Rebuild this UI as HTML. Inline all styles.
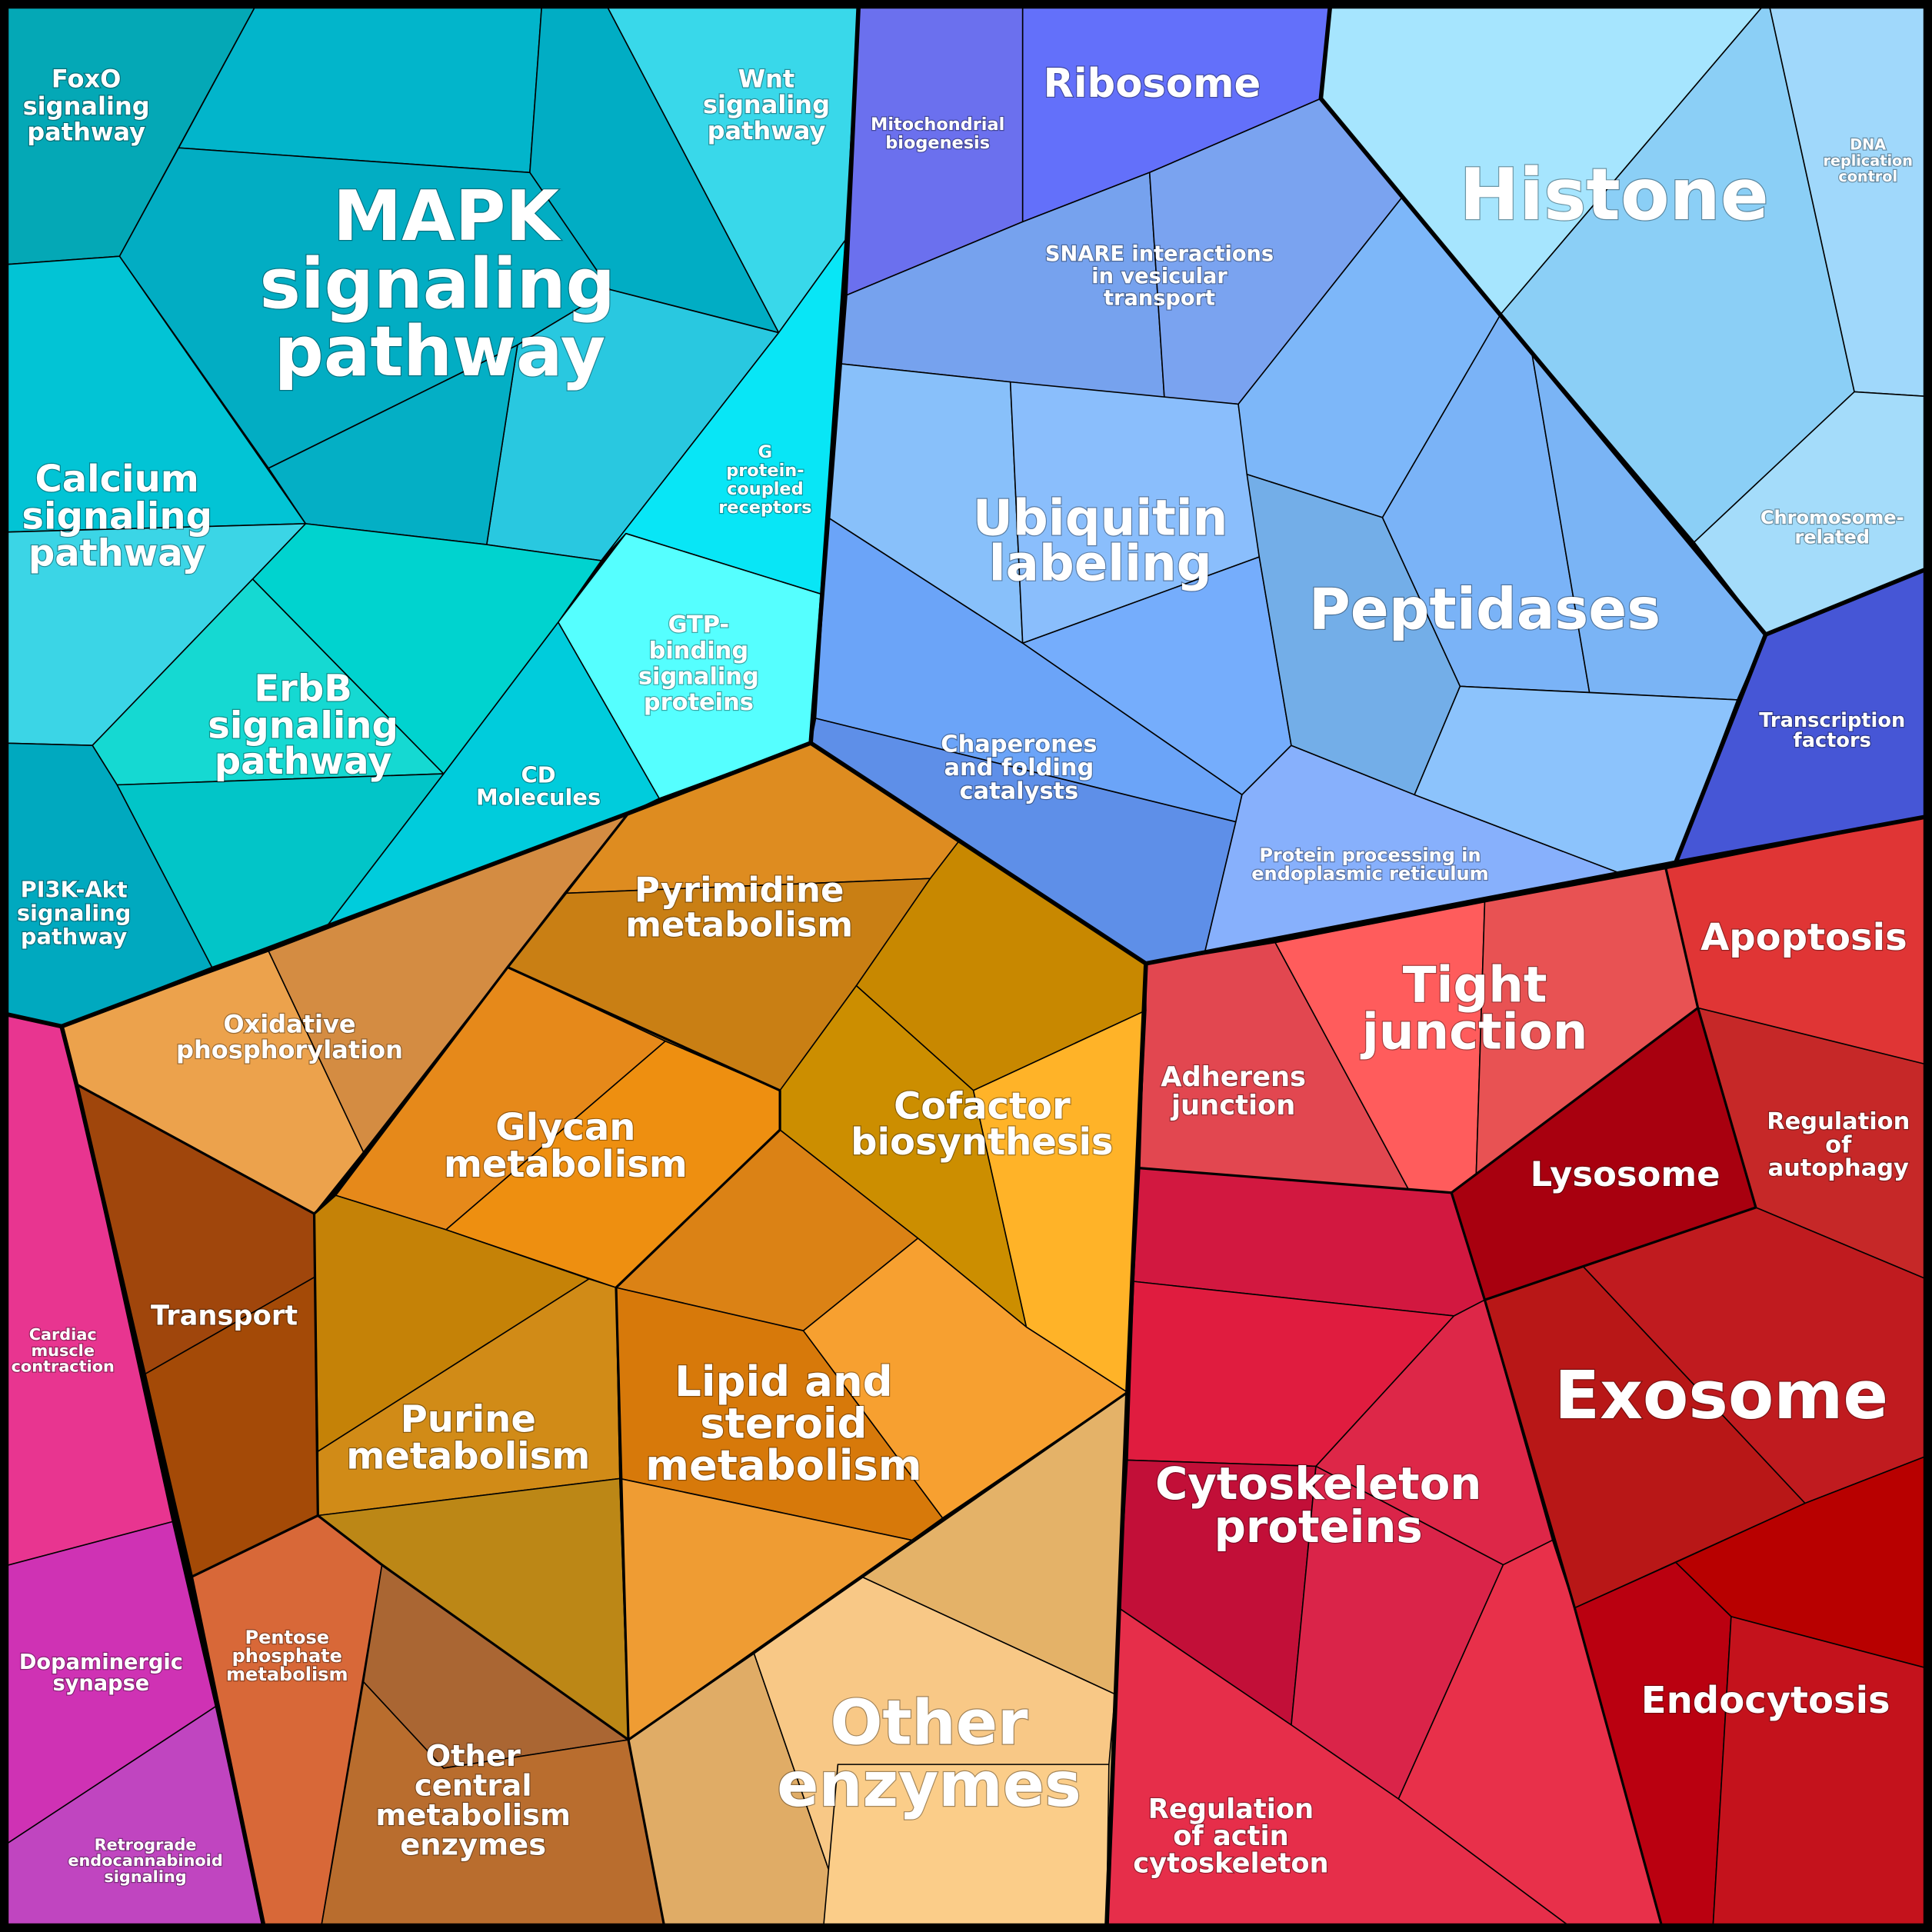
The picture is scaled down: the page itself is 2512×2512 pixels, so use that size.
<!DOCTYPE html>
<html><head><meta charset="utf-8"><style>
html,body{margin:0;padding:0;background:#fff}
svg{display:block}
.c polygon{stroke:#000;stroke-width:1;stroke-linejoin:round}
text{font-family:"DejaVu Sans","Liberation Sans",sans-serif;font-weight:bold;fill:#fff;text-anchor:middle;dominant-baseline:central;paint-order:stroke;stroke:rgba(0,0,0,0.35);stroke-width:1.5px}
</style></head><body>
<svg width="2512" height="2512" viewBox="0 0 1568 1568" xmlns="http://www.w3.org/2000/svg">
<rect width="1568" height="1568" fill="#000"/>
<g class="c">
<!-- cyan -->
<polygon fill="#04a8b6" points="0,0 210,0 97,208 0,215"/>
<polygon fill="#02b5cb" points="210,0 440,0 430,140 145,120"/>
<polygon fill="#01adc4" points="440,0 490,0 632,270 495,235 430,140"/>
<polygon fill="#02adc3" points="145,120 430,140 495,235 420,280 218,380 97,208"/>
<polygon fill="#29c8e0" points="420,280 495,235 632,270 488,455 395,442"/>
<polygon fill="#04afc5" points="218,380 420,280 395,442 248,425"/>
<polygon fill="#39d8ea" points="490,0 697,0 686,195 632,270"/>
<polygon fill="#08e6f6" points="686,195 666,482 508,433 488,455 632,270"/>
<polygon fill="#55ffff" points="508,433 666,482 658,603 535,648 453,505"/>
<polygon fill="#00ccdc" points="453,505 535,648 510,660 265,752 360,628"/>
<polygon fill="#00d3cf" points="248,425 395,442 488,455 453,505 360,628 205,470"/>
<polygon fill="#02c4d5" points="0,215 97,208 248,425 0,432"/>
<polygon fill="#3bd5e6" points="0,432 248,425 205,470 75,605 0,603"/>
<polygon fill="#15d9d2" points="205,470 360,628 95,637 75,605"/>
<polygon fill="#02c5c8" points="95,637 360,628 265,752 172,785"/>
<polygon fill="#00a9bf" points="0,603 75,605 95,637 172,785 50,833 0,822"/>
<!-- blue -->
<polygon fill="#6b70ee" points="697,0 830,0 830,180 686,240"/>
<polygon fill="#6370fa" points="830,0 1080,0 1072,80 933,140 830,180"/>
<polygon fill="#76a2ee" points="686,240 830,180 933,140 945,323 820,310 680,295"/>
<polygon fill="#7aa3f0" points="933,140 1072,80 1138,160 1005,328 945,323"/>
<polygon fill="#88c0fa" points="680,295 820,310 830,522 672,420"/>
<polygon fill="#8abefc" points="820,310 1005,328 1022,452 830,522"/>
<polygon fill="#75adfc" points="830,522 1022,452 1048,605 1008,645"/>
<polygon fill="#6ba4f8" points="672,420 830,522 1008,645 1003,667 662,583"/>
<polygon fill="#5e8fe8" points="662,583 1003,667 978,772 930,782 658,603"/>
<polygon fill="#87b0fc" points="1048,605 1148,645 1313,708 978,772 1003,667 1008,645"/>
<polygon fill="#7db7f9" points="1005,328 1138,160 1218,255 1122,420 1012,385"/>
<polygon fill="#73aee8" points="1012,385 1122,420 1185,557 1148,645 1048,605 1022,452"/>
<polygon fill="#7ab3f7" points="1122,420 1218,255 1243,285 1290,562 1185,557"/>
<polygon fill="#7ab4f5" points="1243,285 1433,515 1410,568 1290,562"/>
<polygon fill="#8cc3fc" points="1185,557 1410,568 1360,700 1313,708 1148,645"/>
<polygon fill="#a6e5fe" points="1080,0 1435,0 1218,255 1138,160 1072,80"/>
<polygon fill="#8bcff6" points="1435,0 1505,318 1375,440 1218,255"/>
<polygon fill="#a0d8fb" points="1435,0 1568,0 1568,322 1505,318"/>
<polygon fill="#a4dcfa" points="1505,318 1568,322 1568,460 1433,515 1375,440"/>
<polygon fill="#4656d6" points="1433,515 1568,460 1568,662 1360,700"/>
<!-- red -->
<polygon fill="#e24750" points="930,782 1035,765 1143,965 925,948"/>
<polygon fill="#ff5c5c" points="1035,765 1205,732 1198,955 1178,968 1143,965"/>
<polygon fill="#e85253" points="1205,732 1352,705 1378,818 1198,955"/>
<polygon fill="#e03535" points="1352,705 1568,662 1568,865 1378,818"/>
<polygon fill="#a8000f" points="1178,968 1378,818 1425,980 1205,1055"/>
<polygon fill="#c62828" points="1378,818 1568,865 1568,1040 1425,980"/>
<polygon fill="#b81717" points="1205,1055 1285,1028 1465,1220 1278,1305"/>
<polygon fill="#c01b1f" points="1285,1028 1425,980 1568,1040 1568,1180 1465,1220"/>
<polygon fill="#b80000" points="1465,1220 1568,1180 1568,1355 1405,1312 1360,1268"/>
<polygon fill="#ba0010" points="1278,1305 1360,1268 1405,1312 1390,1568 1350,1568"/>
<polygon fill="#c4121c" points="1405,1312 1568,1355 1568,1568 1390,1568"/>
<polygon fill="#d21840" points="925,948 1143,965 1178,968 1205,1055 1180,1068 920,1040"/>
<polygon fill="#e01c3f" points="920,1040 1180,1068 1068,1190 915,1185"/>
<polygon fill="#dd2748" points="1180,1068 1205,1055 1260,1250 1220,1270 1068,1190"/>
<polygon fill="#c20f38" points="915,1185 1068,1190 1048,1400 908,1305"/>
<polygon fill="#da2449" points="1068,1190 1220,1270 1135,1460 1048,1400"/>
<polygon fill="#e8304a" points="1220,1270 1260,1250 1278,1305 1350,1568 1280,1568 1135,1460"/>
<polygon fill="#e62e4a" points="908,1305 1048,1400 1135,1460 1280,1568 898,1568"/>
<!-- orange -->
<polygon fill="#eca24c" points="50,833 218,772 295,935 255,985 62,880"/>
<polygon fill="#d48c42" points="218,772 510,660 458,725 412,785 295,935"/>
<polygon fill="#de8c20" points="510,660 658,603 778,683 755,713 458,725"/>
<polygon fill="#c97f14" points="458,725 755,713 695,800 633,885 540,845 412,785"/>
<polygon fill="#c88800" points="778,683 930,782 930,820 790,885 695,800 755,713"/>
<polygon fill="#cc8e00" points="695,800 790,885 833,1077 745,1005 633,917 633,885"/>
<polygon fill="#ffb328" points="790,885 930,820 915,1130 833,1077"/>
<polygon fill="#e6891a" points="412,785 540,845 362,998 272,970"/>
<polygon fill="#ee8f10" points="540,845 633,885 633,917 500,1045 362,998"/>
<polygon fill="#a0460c" points="62,880 255,985 258,1035 118,1115"/>
<polygon fill="#a44a07" points="118,1115 258,1035 258,1230 155,1280"/>
<polygon fill="#c58207" points="255,985 272,970 362,998 478,1038 258,1178"/>
<polygon fill="#d18b17" points="258,1178 478,1038 500,1045 503,1200 258,1230"/>
<polygon fill="#bc8716" points="258,1230 503,1200 510,1412 310,1270"/>
<polygon fill="#db8215" points="500,1045 633,917 745,1005 652,1080"/>
<polygon fill="#d7790a" points="500,1045 652,1080 765,1232 740,1250 503,1200"/>
<polygon fill="#f7a030" points="652,1080 745,1005 833,1077 915,1130 765,1232"/>
<polygon fill="#ef9c33" points="503,1200 740,1250 510,1412"/>
<polygon fill="#d86838" points="155,1280 258,1230 310,1270 260,1568 215,1568"/>
<polygon fill="#aa6633" points="310,1270 510,1412 360,1435 295,1365"/>
<polygon fill="#b96d2e" points="295,1365 360,1435 510,1412 540,1568 260,1568"/>
<polygon fill="#f5c47e" points="510,1412 740,1250 915,1130 898,1568 540,1568"/>
<polygon fill="#e4b268" points="700,1280 915,1130 905,1375"/>
<polygon fill="#e0ac66" points="510,1412 612,1342 690,1568 540,1568"/>
<polygon fill="#f8c886" points="612,1342 700,1280 905,1375 900,1432 668,1568 690,1568"/>
<polygon fill="#fbcd89" points="680,1432 900,1432 898,1568 668,1568"/>
<!-- pink -->
<polygon fill="#e83590" points="0,822 50,833 62,880 140,1235 0,1272"/>
<polygon fill="#cf32b4" points="0,1272 140,1235 175,1385 0,1500"/>
<polygon fill="#c045c0" points="0,1500 175,1385 215,1568 0,1568"/>
</g>
<g fill="none" stroke="#000" stroke-width="3.5" stroke-linejoin="round">
<polyline points="697,0 686,240 658,603 510,660 265,752 50,833 0,822"/>
<polyline points="1080,0 1072,80 1433,515 1568,460"/>
<polyline points="1433,515 1360,700"/>
<polyline points="658,603 930,782 1360,700 1568,662"/>
<polyline points="930,782 915,1130 898,1568"/>
<polyline points="50,833 62,880 155,1280 215,1568"/>
</g>
<g fill="none" stroke="#000" stroke-width="2" stroke-linejoin="round">
<polyline points="62,880 255,985 258,1230 310,1270 510,1412 540,1568"/>
<polyline points="255,985 272,970 412,785 510,660"/>
<polyline points="412,785 633,885 633,917 500,1045 510,1412 915,1130"/>
<polyline points="155,1280 258,1230"/>
<polyline points="1178,968 1378,818 1352,705"/>
<polyline points="1178,968 1205,1055 1278,1305 1350,1568"/>
<polyline points="1205,1055 1425,980 1378,818"/>
<polyline points="925,948 1178,968"/>
</g>
<rect x="3" y="3" width="1562" height="1562" fill="none" stroke="#000" stroke-width="8"/>
<g>
<text font-size="20"><tspan x="70" y="64">FoxO</tspan><tspan x="70" y="86">signaling</tspan><tspan x="70" y="107">pathway</tspan></text>
<text font-size="56"><tspan x="362" y="176">MAPK</tspan><tspan x="355" y="231">signaling</tspan><tspan x="357" y="286">pathway</tspan></text>
<text font-size="20"><tspan x="622" y="64">Wnt</tspan><tspan x="622" y="85">signaling</tspan><tspan x="622" y="106">pathway</tspan></text>
<text font-size="14"><tspan x="761" y="101">Mitochondrial</tspan><tspan x="761" y="116">biogenesis</tspan></text>
<text font-size="32" x="935" y="68">Ribosome</text>
<text font-size="58" x="1310" y="158">Histone</text>
<text font-size="12"><tspan x="1516" y="117">DNA</tspan><tspan x="1516" y="130">replication</tspan><tspan x="1516" y="143">control</tspan></text>
<text font-size="17"><tspan x="941" y="206">SNARE interactions</tspan><tspan x="941" y="224">in vesicular</tspan><tspan x="941" y="242">transport</tspan></text>
<text font-size="14"><tspan x="621" y="367">G</tspan><tspan x="621" y="382">protein-</tspan><tspan x="621" y="397">coupled</tspan><tspan x="621" y="412">receptors</tspan></text>
<text font-size="30"><tspan x="95" y="389">Calcium</tspan><tspan x="95" y="419">signaling</tspan><tspan x="95" y="449">pathway</tspan></text>
<text font-size="40"><tspan x="893" y="421">Ubiquitin</tspan><tspan x="893" y="458">labeling</tspan></text>
<text font-size="46" x="1205" y="495">Peptidases</text>
<text font-size="15"><tspan x="1487" y="420">Chromosome-</tspan><tspan x="1487" y="436">related</tspan></text>
<text font-size="19"><tspan x="567" y="507">GTP-</tspan><tspan x="567" y="528">binding</tspan><tspan x="567" y="549">signaling</tspan><tspan x="567" y="570">proteins</tspan></text>
<text font-size="30"><tspan x="246" y="559">ErbB</tspan><tspan x="246" y="589">signaling</tspan><tspan x="246" y="618">pathway</tspan></text>
<text font-size="16"><tspan x="1487" y="585">Transcription</tspan><tspan x="1487" y="601">factors</tspan></text>
<text font-size="18"><tspan x="437" y="629">CD</tspan><tspan x="437" y="647">Molecules</tspan></text>
<text font-size="19"><tspan x="827" y="604">Chaperones</tspan><tspan x="827" y="623">and folding</tspan><tspan x="827" y="642">catalysts</tspan></text>
<text font-size="18"><tspan x="60" y="722">PI3K-Akt</tspan><tspan x="60" y="741">signaling</tspan><tspan x="60" y="760">pathway</tspan></text>
<text font-size="15"><tspan x="1112" y="694">Protein processing in</tspan><tspan x="1112" y="709">endoplasmic reticulum</tspan></text>
<text font-size="28"><tspan x="600" y="722">Pyrimidine</tspan><tspan x="600" y="750">metabolism</tspan></text>
<text font-size="30" x="1464" y="761">Apoptosis</text>
<text font-size="40"><tspan x="1197" y="800">Tight</tspan><tspan x="1197" y="838">junction</tspan></text>
<text font-size="20"><tspan x="235" y="831">Oxidative</tspan><tspan x="235" y="852">phosphorylation</tspan></text>
<text font-size="22"><tspan x="1001" y="874">Adherens</tspan><tspan x="1001" y="897">junction</tspan></text>
<text font-size="30"><tspan x="797" y="898">Cofactor</tspan><tspan x="797" y="927">biosynthesis</tspan></text>
<text font-size="19"><tspan x="1492" y="910">Regulation</tspan><tspan x="1492" y="929">of</tspan><tspan x="1492" y="948">autophagy</tspan></text>
<text font-size="30"><tspan x="459" y="915">Glycan</tspan><tspan x="459" y="945">metabolism</tspan></text>
<text font-size="28" x="1319" y="953">Lysosome</text>
<text font-size="22" x="182" y="1068">Transport</text>
<text font-size="13"><tspan x="51" y="1083">Cardiac</tspan><tspan x="51" y="1096">muscle</tspan><tspan x="51" y="1109">contraction</tspan></text>
<text font-size="54" x="1397" y="1133">Exosome</text>
<text font-size="34"><tspan x="636" y="1121">Lipid and</tspan><tspan x="636" y="1155">steroid</tspan><tspan x="636" y="1189">metabolism</tspan></text>
<text font-size="30"><tspan x="380" y="1152">Purine</tspan><tspan x="380" y="1182">metabolism</tspan></text>
<text font-size="36"><tspan x="1070" y="1204">Cytoskeleton</tspan><tspan x="1070" y="1239">proteins</tspan></text>
<text font-size="15"><tspan x="233" y="1329">Pentose</tspan><tspan x="233" y="1344">phosphate</tspan><tspan x="233" y="1359">metabolism</tspan></text>
<text font-size="17"><tspan x="82" y="1349">Dopaminergic</tspan><tspan x="82" y="1366">synapse</tspan></text>
<text font-size="30" x="1433" y="1380">Endocytosis</text>
<text font-size="50"><tspan x="754" y="1398">Other</tspan><tspan x="754" y="1448">enzymes</tspan></text>
<text font-size="24"><tspan x="384" y="1425">Other</tspan><tspan x="384" y="1449">central</tspan><tspan x="384" y="1473">metabolism</tspan><tspan x="384" y="1497">enzymes</tspan></text>
<text font-size="22"><tspan x="999" y="1468">Regulation</tspan><tspan x="999" y="1490">of actin</tspan><tspan x="999" y="1512">cytoskeleton</tspan></text>
<text font-size="13"><tspan x="118" y="1497">Retrograde</tspan><tspan x="118" y="1510">endocannabinoid</tspan><tspan x="118" y="1523">signaling</tspan></text>
</g>
</svg>
</body></html>
